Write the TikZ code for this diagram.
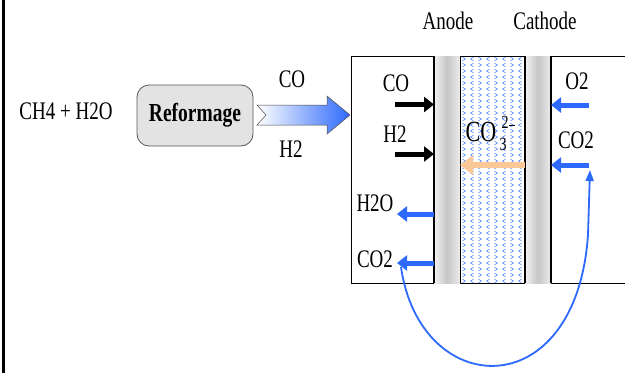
\documentclass[tikz,border=0pt]{standalone}
\usepackage{fontspec}
\setmainfont{Liberation Serif}
\usetikzlibrary{arrows.meta}
\definecolor{fblue}{RGB}{45,105,250}
\definecolor{pblue}{RGB}{90,140,250}
\definecolor{forange}{RGB}{250,200,150}
\newcommand\st[1]{\scalebox{1}[1.33]{#1}}
\tikzset{
  lab/.style={font=\fontsize{19}{22}\selectfont, inner sep=0pt},
  barr/.style={draw=fblue, line width=5pt, -{Triangle[length=10pt,width=15pt]}},
  karr/.style={draw=black, line width=5pt, -{Triangle[length=10pt,width=15pt]}},
  oarr/.style={draw=forange, line width=6pt, -{Triangle[length=13pt,width=19pt]}},
  band/.style={left color=gray!10, right color=gray!15, middle color=gray!45},
  chev/.style={draw=pblue, line width=0.6pt},
}
\begin{document}
\begin{tikzpicture}[x=1pt,y=-1pt]
\useasboundingbox (0,0) rectangle (625,373);
\fill[white] (0,0) rectangle (625,373);
% left border line
\draw[line width=2.5pt] (3.5,0) -- (3.5,373);
% outer cell box
\draw[line width=0.8pt] (635,56) -- (351,56) -- (351,283) -- (635,283);
% electrodes
\shade[band] (434,56) rectangle (460,283);
\shade[band] (525,56) rectangle (551,283);
% electrolyte pattern
\foreach \c in {0,...,7}{
  \foreach \r in {0,...,37}{
    \pgfmathsetmacro{\xx}{464+8*\c}
    \pgfmathsetmacro{\yy}{59+6*\r}
    \ifodd\c
      \draw[chev] (\xx+1.5,\yy-1.8) -- (\xx-1.5,\yy) -- (\xx+1.5,\yy+1.8);
    \else
      \draw[chev] (\xx-1.5,\yy-1.8) -- (\xx+1.5,\yy) -- (\xx-1.5,\yy+1.8);
    \fi
  }
}
\draw[line width=1.8pt] (434,56) -- (434,283);
\draw[line width=0.8pt] (460,56) -- (460,283);
\draw[line width=1.8pt] (525,56) -- (525,283);
\draw[line width=1.8pt] (551,56) -- (551,283);
% titles
\node[lab] (anode) at (448,21) {\st{Anode}};
\node[lab] (cathode) at (545,21) {\st{Cathode}};
% left part
\node[lab] (feed) at (66,111) {\st{CH4 + H2O}};
\node[draw=gray!70!black, line width=0.8pt, fill=gray!22, rounded corners=12pt,
      minimum width=116pt, minimum height=61pt, inner sep=0pt,
      font=\fontsize{19.5}{22}\selectfont\bfseries] (ref) at (195,115.5) {\st{Reformage}};
% big gradient arrow
\shade[left color=white, right color=fblue, draw=gray!60!black, line width=0.5pt]
  (257,105) -- (266,115) -- (257,125) -- (327,125) -- (327,134) -- (350,115)
  -- (327,96) -- (327,105) -- cycle;
\node[lab] (gco) at (292,79) {\st{CO}};
\node[lab] (gh2) at (291,149) {\st{H2}};
% anode side
\node[lab] (aco) at (396,83.5) {\st{CO}};
\node[lab] (ah2) at (395,134) {\st{H2}};
\node[lab] (ah2o) at (375,203) {\st{H2O}};
\node[lab] (aco2) at (375,259) {\st{CO2}};
\coordinate (k1s) at (395,104.5); \coordinate (k1e) at (434,104.5);
\coordinate (k2s) at (395,154); \coordinate (k2e) at (434,154);
\coordinate (b1s) at (434,214); \coordinate (b1e) at (397,214);
\coordinate (b2s) at (434,263); \coordinate (b2e) at (397,263);
\draw[karr] (k1s) -- (k1e);
\draw[karr] (k2s) -- (k2e);
\draw[barr] (b1s) -- (b1e);
\draw[barr] (b2s) -- (b2e);
% cathode side
\node[lab] (co2n) at (577,81) {\st{O2}};
\node[lab] (cco2) at (576,140) {\st{CO2}};
\coordinate (c1s) at (589,105); \coordinate (c1e) at (551,105);
\coordinate (c2s) at (589,165); \coordinate (c2e) at (551,165);
\draw[barr] (c1s) -- (c1e);
\draw[barr] (c2s) -- (c2e);
% carbonate ion
\node[font=\fontsize{22}{24}\selectfont, inner sep=0pt] (ion) at (481,132) {\st{CO}};
\node[font=\fontsize{14}{15}\selectfont, inner sep=0pt] (isup) at (508,122) {\st{2\raisebox{0.3ex}{\rule{6pt}{0.7pt}}}};
\node[font=\fontsize{14}{15}\selectfont, inner sep=0pt] (isub) at (503,144) {\st{3}};
\coordinate (os) at (525,165); \coordinate (oe) at (460,165);
\draw[oarr] (os) -- (oe);
% recycle loop
\coordinate (rs) at (401,267);
\coordinate (re) at (590,170);
\draw[fblue, line width=1.8pt, -{Triangle[length=11pt,width=8pt]}]
  (rs) .. controls (420,400) and (576,408) .. (588,235) -- (re);
\end{tikzpicture}
\end{document}
